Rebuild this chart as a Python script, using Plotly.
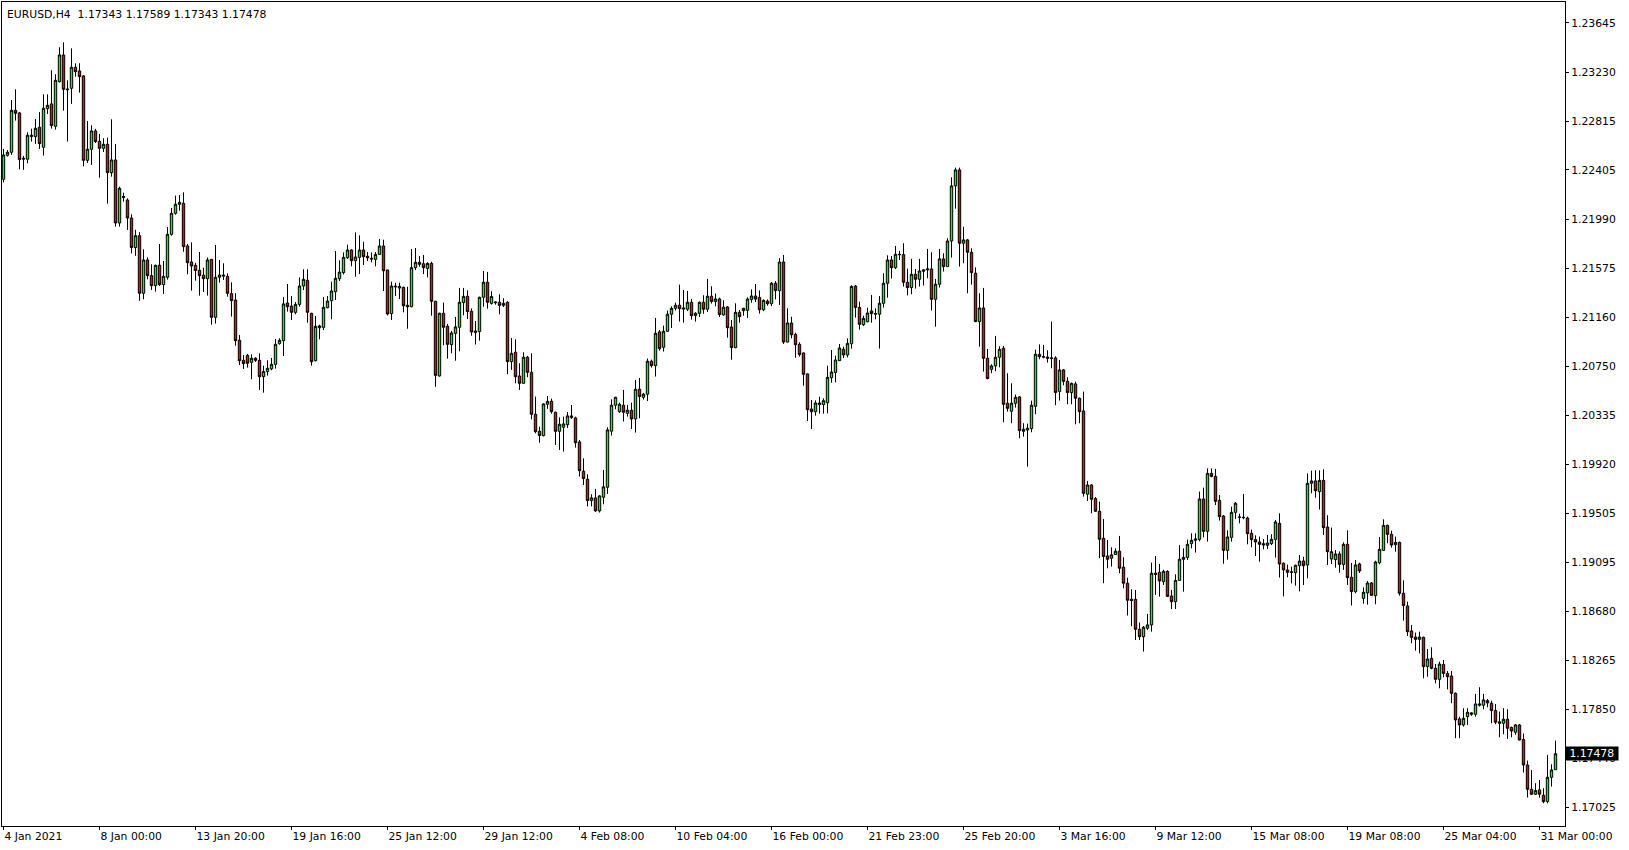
import plotly.graph_objects as go

symbol = "EURUSD"
period = "H4"

opens = [
    1.22326, 1.22528, 1.22554, 1.22908, 1.22886, 1.22503, 1.22495, 1.22686, 1.22686, 1.22765,
    1.22596, 1.22922, 1.22962, 1.22773, 1.23150, 1.23375, 1.23088, 1.23094, 1.23271, 1.23240,
    1.23198, 1.22486, 1.22579, 1.22734, 1.22646, 1.22587, 1.22621, 1.22382, 1.22489, 1.21957,
    1.22171, 1.22151, 1.21999, 1.21750, 1.21850, 1.21364, 1.21645, 1.21513, 1.21428, 1.21600,
    1.21437, 1.21499, 1.21861, 1.22039, 1.22115, 1.22123, 1.21763, 1.21628, 1.21600, 1.21558,
    1.21516, 1.21487, 1.21650, 1.21161, 1.21499, 1.21518, 1.21507, 1.21361, 1.21307, 1.20967,
    1.20798, 1.20840, 1.20781, 1.20815, 1.20798, 1.20660, 1.20703, 1.20726, 1.20764, 1.20939,
    1.20964, 1.21282, 1.21256, 1.21203, 1.21270, 1.21425, 1.21473, 1.21194, 1.20795, 1.21073,
    1.21076, 1.21242, 1.21301, 1.21377, 1.21487, 1.21538, 1.21664, 1.21729, 1.21639, 1.21667,
    1.21729, 1.21676, 1.21659, 1.21650, 1.21692, 1.21763, 1.21560, 1.21192, 1.21425, 1.21408,
    1.21414, 1.21262, 1.21251, 1.21580, 1.21625, 1.21613, 1.21574, 1.21616, 1.21296, 1.20666,
    1.21195, 1.21085, 1.20931, 1.21026, 1.21077, 1.21285, 1.21338, 1.21212, 1.21046, 1.21040,
    1.21330, 1.21457, 1.21279, 1.21291, 1.21288, 1.21262, 1.21288, 1.20787, 1.20866, 1.20666,
    1.20604, 1.20824, 1.20697, 1.20343, 1.20199, 1.20163, 1.20427, 1.20452, 1.20360, 1.20199,
    1.20233, 1.20255, 1.20329, 1.20312, 1.20109, 1.19862, 1.19794, 1.19614, 1.19637, 1.19527,
    1.19643, 1.19727, 1.20200, 1.20419, 1.20365, 1.20419, 1.20351, 1.20377, 1.20303, 1.20554,
    1.20486, 1.20512, 1.20790, 1.20753, 1.21038, 1.20908, 1.21043, 1.21187, 1.21237, 1.21263,
    1.21240, 1.21229, 1.21288, 1.21175, 1.21195, 1.21288, 1.21229, 1.21339, 1.21294, 1.21316,
    1.21181, 1.21248, 1.21079, 1.20905, 1.21203, 1.21217, 1.21220, 1.21312, 1.21341, 1.21329,
    1.21225, 1.21298, 1.21276, 1.21448, 1.21386, 1.21628, 1.20952, 1.21113, 1.21017, 1.20933,
    1.20860, 1.20683, 1.20387, 1.20364, 1.20424, 1.20424, 1.20440, 1.20651, 1.20696, 1.20795,
    1.20891, 1.20843, 1.20938, 1.21425, 1.21245, 1.21099, 1.21124, 1.21215, 1.21192, 1.21187,
    1.21279, 1.21448, 1.21645, 1.21580, 1.21693, 1.21690, 1.21457, 1.21412, 1.21524, 1.21482,
    1.21549, 1.21561, 1.21569, 1.21313, 1.21440, 1.21654, 1.21589, 1.21805, 1.22270, 1.22405,
    1.21786, 1.21814, 1.21710, 1.21533, 1.21125, 1.21240, 1.20815, 1.20722, 1.20751, 1.20824,
    1.20900, 1.20436, 1.20368, 1.20436, 1.20489, 1.20199, 1.20210, 1.20222, 1.20410, 1.20849,
    1.20829, 1.20826, 1.20818, 1.20818, 1.20534, 1.20717, 1.20621, 1.20526, 1.20599, 1.20478,
    1.20371, 1.19668, 1.19746, 1.19631, 1.19524, 1.19296, 1.19147, 1.19128, 1.19159, 1.19187,
    1.19052, 1.18917, 1.18781, 1.18781, 1.18528, 1.18466, 1.18537, 1.18565, 1.19001, 1.19009,
    1.18930, 1.19017, 1.18809, 1.18761, 1.18941, 1.19119, 1.19135, 1.19251, 1.19279, 1.19287,
    1.19628, 1.19355, 1.19844, 1.19819, 1.19616, 1.19484, 1.19194, 1.19304, 1.19515, 1.19476,
    1.19473, 1.19467, 1.19338, 1.19285, 1.19265, 1.19251, 1.19237, 1.19251, 1.19287, 1.19422,
    1.19085, 1.19029, 1.19009, 1.19006, 1.19065, 1.19104, 1.19071, 1.19760, 1.19780, 1.19690,
    1.19785, 1.19391, 1.19121, 1.19116, 1.19164, 1.19076, 1.19245, 1.18967, 1.18846, 1.19079,
    1.18789, 1.18835, 1.18919, 1.18812, 1.19090, 1.19194, 1.19405, 1.19330, 1.19242, 1.19262,
    1.18832, 1.18725, 1.18514, 1.18463, 1.18443, 1.18460, 1.18213, 1.18283, 1.18199, 1.18106,
    1.18232, 1.18156, 1.18134, 1.17988, 1.17772, 1.17721, 1.17791, 1.17811, 1.17811, 1.17887,
    1.17887, 1.17926, 1.17904, 1.17842, 1.17747, 1.17735, 1.17769, 1.17699, 1.17659, 1.17721,
    1.17597, 1.17383, 1.17178, 1.17136, 1.17173, 1.17127, 1.17074, 1.17279, 1.17343,
]

highs = [
    1.22582, 1.22573, 1.22995, 1.23085, 1.22894, 1.22523, 1.22722, 1.22753, 1.22835, 1.22894,
    1.23043, 1.23043, 1.23246, 1.23212, 1.23440, 1.23482, 1.23161, 1.23431, 1.23305, 1.23305,
    1.23203, 1.22818, 1.22781, 1.22751, 1.22708, 1.22672, 1.22677, 1.22832, 1.22624, 1.22264,
    1.22213, 1.22165, 1.22030, 1.21900, 1.21880, 1.21735, 1.21667, 1.21608, 1.21605, 1.21780,
    1.21636, 1.21923, 1.22084, 1.22188, 1.22193, 1.22216, 1.21780, 1.21794, 1.21620, 1.21712,
    1.21580, 1.21665, 1.21653, 1.21771, 1.21645, 1.21617, 1.21532, 1.21456, 1.21364, 1.21012,
    1.20843, 1.20852, 1.20849, 1.20824, 1.20857, 1.20753, 1.20798, 1.20818, 1.20978, 1.20984,
    1.21333, 1.21442, 1.21341, 1.21290, 1.21498, 1.21566, 1.21566, 1.21200, 1.21172, 1.21099,
    1.21332, 1.21341, 1.21462, 1.21720, 1.21642, 1.21709, 1.21774, 1.21735, 1.21878, 1.21853,
    1.21799, 1.21712, 1.21709, 1.21712, 1.21822, 1.21816, 1.21565, 1.21462, 1.21453, 1.21453,
    1.21419, 1.21419, 1.21737, 1.21746, 1.21678, 1.21687, 1.21625, 1.21630, 1.21301, 1.21200,
    1.21285, 1.21105, 1.21046, 1.21164, 1.21409, 1.21409, 1.21389, 1.21237, 1.21130, 1.21335,
    1.21552, 1.21544, 1.21381, 1.21296, 1.21355, 1.21322, 1.21296, 1.20987, 1.20976, 1.20773,
    1.20866, 1.20835, 1.20857, 1.20492, 1.20238, 1.20435, 1.20497, 1.20475, 1.20365, 1.20317,
    1.20323, 1.20362, 1.20421, 1.20323, 1.20126, 1.19971, 1.19836, 1.19668, 1.19713, 1.19660,
    1.19873, 1.20233, 1.20469, 1.20490, 1.20441, 1.20548, 1.20422, 1.20441, 1.20633, 1.20649,
    1.20523, 1.20813, 1.20804, 1.21156, 1.21054, 1.21091, 1.21218, 1.21254, 1.21285, 1.21437,
    1.21392, 1.21384, 1.21316, 1.21204, 1.21294, 1.21347, 1.21485, 1.21423, 1.21361, 1.21327,
    1.21305, 1.21256, 1.21138, 1.21279, 1.21222, 1.21240, 1.21329, 1.21397, 1.21442, 1.21388,
    1.21312, 1.21312, 1.21459, 1.21467, 1.21661, 1.21687, 1.21237, 1.21166, 1.21031, 1.20950,
    1.20865, 1.20688, 1.20463, 1.20460, 1.20491, 1.20477, 1.20753, 1.20885, 1.20837, 1.20936,
    1.20913, 1.20983, 1.21431, 1.21433, 1.21293, 1.21175, 1.21242, 1.21350, 1.21237, 1.21341,
    1.21533, 1.21684, 1.21679, 1.21763, 1.21721, 1.21786, 1.21572, 1.21654, 1.21569, 1.21654,
    1.21569, 1.21738, 1.21710, 1.21485, 1.21738, 1.21701, 1.21828, 1.22343, 1.22424, 1.22424,
    1.21926, 1.21822, 1.21744, 1.21583, 1.21364, 1.21409, 1.20894, 1.20765, 1.21004, 1.20917,
    1.20919, 1.20689, 1.20604, 1.20509, 1.20497, 1.20267, 1.20264, 1.20458, 1.20888, 1.20933,
    1.20928, 1.20883, 1.21125, 1.20832, 1.20801, 1.20725, 1.20655, 1.20610, 1.20618, 1.20484,
    1.20534, 1.19780, 1.19752, 1.19645, 1.19606, 1.19459, 1.19282, 1.19220, 1.19212, 1.19316,
    1.19136, 1.18964, 1.18866, 1.18860, 1.18585, 1.18556, 1.18658, 1.19091, 1.19147, 1.19080,
    1.19031, 1.19026, 1.18860, 1.18992, 1.19239, 1.19211, 1.19285, 1.19338, 1.19338, 1.19690,
    1.19723, 1.19886, 1.19886, 1.19881, 1.19661, 1.19493, 1.19363, 1.19563, 1.19602, 1.19504,
    1.19670, 1.19479, 1.19369, 1.19321, 1.19310, 1.19290, 1.19324, 1.19330, 1.19450, 1.19507,
    1.19093, 1.19074, 1.19057, 1.19074, 1.19155, 1.19141, 1.19844, 1.19867, 1.19870, 1.19870,
    1.19878, 1.19490, 1.19386, 1.19197, 1.19186, 1.19262, 1.19363, 1.19088, 1.19113, 1.19090,
    1.18882, 1.18936, 1.18927, 1.19107, 1.19307, 1.19456, 1.19411, 1.19360, 1.19310, 1.19268,
    1.18941, 1.18761, 1.18564, 1.18500, 1.18508, 1.18466, 1.18362, 1.18376, 1.18235, 1.18255,
    1.18269, 1.18176, 1.18176, 1.17995, 1.17791, 1.17862, 1.17862, 1.17828, 1.17983, 1.18039,
    1.17983, 1.17940, 1.17926, 1.17898, 1.17834, 1.17862, 1.17853, 1.17707, 1.17729, 1.17729,
    1.17648, 1.17420, 1.17341, 1.17229, 1.17257, 1.17187, 1.17468, 1.17389, 1.17589,
]

lows = [
    1.22300, 1.22517, 1.22531, 1.22821, 1.22410, 1.22405, 1.22461, 1.22644, 1.22624, 1.22582,
    1.22526, 1.22877, 1.22753, 1.22745, 1.23142, 1.22905, 1.22644, 1.22962, 1.23192, 1.23057,
    1.22435, 1.22464, 1.22447, 1.22632, 1.22340, 1.22556, 1.22120, 1.22348, 1.21926, 1.21926,
    1.22137, 1.21898, 1.21700, 1.21680, 1.21300, 1.21313, 1.21482, 1.21392, 1.21378, 1.21425,
    1.21358, 1.21479, 1.21850, 1.22027, 1.22061, 1.21715, 1.21524, 1.21386, 1.21470, 1.21344,
    1.21375, 1.21344, 1.21099, 1.21108, 1.21454, 1.21476, 1.21335, 1.21167, 1.20922, 1.20759,
    1.20725, 1.20736, 1.20638, 1.20784, 1.20548, 1.20525, 1.20669, 1.20714, 1.20728, 1.20930,
    1.20835, 1.21209, 1.21138, 1.21186, 1.21251, 1.21391, 1.21116, 1.20753, 1.20790, 1.20975,
    1.21054, 1.21237, 1.21144, 1.21307, 1.21467, 1.21523, 1.21653, 1.21591, 1.21504, 1.21526,
    1.21602, 1.21636, 1.21625, 1.21591, 1.21690, 1.21383, 1.21177, 1.21138, 1.21341, 1.21315,
    1.21203, 1.21065, 1.21245, 1.21560, 1.21588, 1.21526, 1.21498, 1.21175, 1.20575, 1.20660,
    1.20925, 1.20812, 1.20857, 1.20795, 1.20874, 1.21178, 1.21147, 1.21006, 1.20931, 1.20964,
    1.21251, 1.21234, 1.21268, 1.21268, 1.21186, 1.21248, 1.20680, 1.20717, 1.20604, 1.20548,
    1.20599, 1.20655, 1.20300, 1.20182, 1.20103, 1.20155, 1.20388, 1.20348, 1.20084, 1.20042,
    1.20028, 1.20227, 1.20303, 1.20061, 1.19817, 1.19746, 1.19566, 1.19566, 1.19521, 1.19513,
    1.19583, 1.19670, 1.20163, 1.20385, 1.20354, 1.20281, 1.20323, 1.20219, 1.20188, 1.20309,
    1.20467, 1.20455, 1.20737, 1.20661, 1.20880, 1.20872, 1.21038, 1.21071, 1.21218, 1.21125,
    1.21116, 1.21215, 1.21142, 1.21125, 1.21164, 1.21192, 1.21206, 1.21277, 1.21254, 1.21164,
    1.21175, 1.20989, 1.20803, 1.20900, 1.21116, 1.21175, 1.21155, 1.21284, 1.21290, 1.21192,
    1.21214, 1.21259, 1.21256, 1.21312, 1.21265, 1.20936, 1.20949, 1.20983, 1.20820, 1.20829,
    1.20584, 1.20286, 1.20218, 1.20331, 1.20348, 1.20348, 1.20350, 1.20609, 1.20612, 1.20792,
    1.20817, 1.20823, 1.20896, 1.21158, 1.21057, 1.21087, 1.21118, 1.21116, 1.21144, 1.20897,
    1.21243, 1.21327, 1.21488, 1.21569, 1.21645, 1.21420, 1.21347, 1.21355, 1.21403, 1.21420,
    1.21429, 1.21490, 1.21218, 1.21082, 1.21412, 1.21547, 1.21585, 1.21665, 1.22078, 1.21589,
    1.21617, 1.21364, 1.21437, 1.21120, 1.20914, 1.20703, 1.20638, 1.20689, 1.20706, 1.20739,
    1.20275, 1.20365, 1.20267, 1.20399, 1.20140, 1.20154, 1.19901, 1.20191, 1.20343, 1.20807,
    1.20815, 1.20779, 1.20731, 1.20419, 1.20458, 1.20587, 1.20427, 1.20427, 1.20258, 1.20267,
    1.19648, 1.19611, 1.19507, 1.19520, 1.19128, 1.18917, 1.19043, 1.19057, 1.19156, 1.19001,
    1.18874, 1.18644, 1.18554, 1.18438, 1.18438, 1.18340, 1.18523, 1.18509, 1.18818, 1.18804,
    1.18902, 1.18800, 1.18699, 1.18699, 1.18936, 1.18846, 1.19113, 1.19211, 1.19175, 1.19270,
    1.19304, 1.19268, 1.19811, 1.19577, 1.19445, 1.19082, 1.19116, 1.19268, 1.19459, 1.19422,
    1.19456, 1.19245, 1.19220, 1.19147, 1.19099, 1.19203, 1.19206, 1.19239, 1.19133, 1.18964,
    1.18806, 1.18967, 1.18916, 1.18896, 1.18848, 1.18902, 1.18958, 1.19676, 1.19639, 1.19538,
    1.19324, 1.19071, 1.19079, 1.19048, 1.19006, 1.19029, 1.18902, 1.18728, 1.18832, 1.19003,
    1.18744, 1.18736, 1.18809, 1.18739, 1.19076, 1.19189, 1.19254, 1.19217, 1.19183, 1.18812,
    1.18601, 1.18472, 1.18410, 1.18348, 1.18325, 1.18114, 1.18128, 1.18190, 1.18072, 1.18030,
    1.18123, 1.18021, 1.17904, 1.17609, 1.17609, 1.17707, 1.17721, 1.17797, 1.17791, 1.17876,
    1.17853, 1.17870, 1.17735, 1.17727, 1.17617, 1.17642, 1.17603, 1.17617, 1.17637, 1.17590,
    1.17319, 1.17108, 1.17130, 1.17130, 1.17108, 1.17060, 1.17060, 1.17201, 1.17343,
]

closes = [
    1.22531, 1.22554, 1.22908, 1.22883, 1.22492, 1.22497, 1.22697, 1.22697, 1.22756, 1.22627,
    1.22925, 1.22950, 1.22779, 1.23161, 1.23375, 1.23085, 1.23082, 1.23271, 1.23234, 1.23192,
    1.22486, 1.22579, 1.22734, 1.22644, 1.22587, 1.22621, 1.22382, 1.22489, 1.21957, 1.22250,
    1.22180, 1.21999, 1.21750, 1.21850, 1.21364, 1.21645, 1.21513, 1.21428, 1.21600, 1.21437,
    1.21507, 1.21861, 1.22039, 1.22115, 1.22132, 1.21757, 1.21622, 1.21594, 1.21555, 1.21513,
    1.21487, 1.21645, 1.21161, 1.21499, 1.21518, 1.21510, 1.21364, 1.21302, 1.20964, 1.20795,
    1.20770, 1.20773, 1.20815, 1.20798, 1.20660, 1.20703, 1.20731, 1.20764, 1.20933, 1.20967,
    1.21274, 1.21251, 1.21203, 1.21270, 1.21425, 1.21481, 1.21203, 1.20786, 1.21085, 1.21088,
    1.21245, 1.21298, 1.21383, 1.21490, 1.21543, 1.21667, 1.21729, 1.21639, 1.21670, 1.21729,
    1.21673, 1.21664, 1.21653, 1.21692, 1.21763, 1.21554, 1.21189, 1.21425, 1.21419, 1.21422,
    1.21259, 1.21251, 1.21580, 1.21625, 1.21608, 1.21580, 1.21616, 1.21296, 1.20671, 1.21195,
    1.21077, 1.20933, 1.21029, 1.21080, 1.21288, 1.21338, 1.21209, 1.21037, 1.21032, 1.21330,
    1.21457, 1.21288, 1.21336, 1.21285, 1.21262, 1.21279, 1.20787, 1.20857, 1.20660, 1.20604,
    1.20824, 1.20697, 1.20343, 1.20196, 1.20163, 1.20430, 1.20452, 1.20365, 1.20199, 1.20258,
    1.20261, 1.20329, 1.20317, 1.20103, 1.19867, 1.19800, 1.19614, 1.19637, 1.19527, 1.19654,
    1.19730, 1.20211, 1.20419, 1.20486, 1.20427, 1.20360, 1.20377, 1.20303, 1.20554, 1.20492,
    1.20512, 1.20790, 1.20753, 1.21026, 1.20897, 1.21043, 1.21187, 1.21237, 1.21263, 1.21234,
    1.21232, 1.21288, 1.21175, 1.21195, 1.21288, 1.21229, 1.21339, 1.21294, 1.21316, 1.21184,
    1.21246, 1.21073, 1.20905, 1.21203, 1.21166, 1.21237, 1.21315, 1.21341, 1.21315, 1.21225,
    1.21304, 1.21276, 1.21448, 1.21386, 1.21628, 1.20952, 1.21113, 1.21014, 1.20930, 1.20846,
    1.20680, 1.20381, 1.20364, 1.20438, 1.20438, 1.20457, 1.20654, 1.20699, 1.20801, 1.20902,
    1.20843, 1.20941, 1.21422, 1.21245, 1.21102, 1.21152, 1.21197, 1.21192, 1.21189, 1.21279,
    1.21448, 1.21645, 1.21580, 1.21693, 1.21690, 1.21457, 1.21412, 1.21524, 1.21482, 1.21552,
    1.21561, 1.21569, 1.21313, 1.21440, 1.21654, 1.21589, 1.21805, 1.22270, 1.22405, 1.21786,
    1.21814, 1.21710, 1.21538, 1.21125, 1.21240, 1.20815, 1.20644, 1.20751, 1.20824, 1.20891,
    1.20427, 1.20393, 1.20436, 1.20486, 1.20205, 1.20216, 1.20225, 1.20419, 1.20849, 1.20829,
    1.20826, 1.20815, 1.20815, 1.20526, 1.20717, 1.20621, 1.20526, 1.20604, 1.20478, 1.20365,
    1.19676, 1.19746, 1.19625, 1.19524, 1.19288, 1.19142, 1.19119, 1.19156, 1.19187, 1.19043,
    1.18917, 1.18773, 1.18770, 1.18528, 1.18466, 1.18545, 1.18565, 1.19001, 1.18992, 1.18936,
    1.19017, 1.18806, 1.18761, 1.18941, 1.19119, 1.19135, 1.19245, 1.19279, 1.19290, 1.19628,
    1.19355, 1.19844, 1.19819, 1.19608, 1.19479, 1.19194, 1.19307, 1.19515, 1.19591, 1.19473,
    1.19470, 1.19335, 1.19285, 1.19265, 1.19245, 1.19239, 1.19256, 1.19287, 1.19434, 1.19079,
    1.19029, 1.19009, 1.19012, 1.19068, 1.19104, 1.19065, 1.19760, 1.19780, 1.19698, 1.19785,
    1.19386, 1.19183, 1.19183, 1.19164, 1.19076, 1.19245, 1.18964, 1.18846, 1.19071, 1.19020,
    1.18840, 1.18919, 1.18815, 1.19096, 1.19203, 1.19405, 1.19330, 1.19239, 1.19262, 1.18832,
    1.18728, 1.18508, 1.18460, 1.18443, 1.18463, 1.18213, 1.18277, 1.18199, 1.18106, 1.18235,
    1.18156, 1.18128, 1.17988, 1.17763, 1.17721, 1.17777, 1.17828, 1.17822, 1.17898, 1.17898,
    1.17932, 1.17907, 1.17842, 1.17744, 1.17735, 1.17769, 1.17693, 1.17670, 1.17721, 1.17594,
    1.17383, 1.17178, 1.17136, 1.17167, 1.17136, 1.17074, 1.17279, 1.17341, 1.17478,
]

time_labels = [
    "4 Jan 2021", "8 Jan 00:00", "13 Jan 20:00", "19 Jan 16:00", "25 Jan 12:00",
    "29 Jan 12:00", "4 Feb 08:00", "10 Feb 04:00", "16 Feb 00:00", "21 Feb 23:00",
    "25 Feb 20:00", "3 Mar 16:00", "9 Mar 12:00", "15 Mar 08:00", "19 Mar 08:00",
    "25 Mar 04:00", "31 Mar 00:00",
]
bars_per_label = 24

price_ticks = [
    1.23645, 1.23230, 1.22815, 1.22405, 1.21990, 1.21575, 1.21160, 1.20750, 1.20335,
    1.19920, 1.19505, 1.19095, 1.18680, 1.18265, 1.17850, 1.17440, 1.17025,
]

n = len(closes)
x = list(range(n))
FONT = "DejaVu Sans"

fig = go.Figure(
    go.Candlestick(
        x=x, open=opens, high=highs, low=lows, close=closes,
        increasing=dict(line=dict(color="#000000", width=1), fillcolor="#00ff00"),
        decreasing=dict(line=dict(color="#000000", width=1), fillcolor="#ff0000"),
        whiskerwidth=0,
        hoverinfo="skip",
        showlegend=False,
    )
)

tick_pos = [i * bars_per_label for i in range(len(time_labels))]

fig.update_layout(
    width=1629, height=850,
    margin=dict(l=2, r=64, t=2, b=24),
    paper_bgcolor="white", plot_bgcolor="white",
    font=dict(family=FONT, size=10.8, color="black"),
    showlegend=False,
    boxgap=0.15,
    xaxis=dict(
        range=[-0.375, n + 1.375],
        rangeslider=dict(visible=False),
        showgrid=False, zeroline=False,
        showline=True, linecolor="black", linewidth=1, mirror=True,
        tickmode="array", tickvals=tick_pos, ticktext=time_labels,
        ticks="outside", ticklen=3, tickcolor="black",
        ticklabelposition="outside right",
        tickfont=dict(family=FONT, size=10.8, color="black"),
    ),
    yaxis=dict(
        side="right",
        range=[1.16868, 1.23822],
        showgrid=False, zeroline=False,
        showline=True, linecolor="black", linewidth=1, mirror=True,
        tickmode="array", tickvals=price_ticks,
        ticktext=[f"{v:.5f}" for v in price_ticks],
        ticks="outside", ticklen=3, tickcolor="black",
        tickfont=dict(family=FONT, size=10.8, color="black"),
    ),
)

title = (f"{symbol},{period}\u00a0\u00a0{opens[-1]:.5f} {highs[-1]:.5f} "
         f"{lows[-1]:.5f} {closes[-1]:.5f}")
fig.add_annotation(
    text=title, xref="paper", yref="paper", x=0, y=1,
    xanchor="left", yanchor="top", xshift=3, yshift=-4, showarrow=False,
    font=dict(family=FONT, size=10.8, color="black"),
)
fig.add_annotation(
    text=f"\u00a0{closes[-1]:.5f}\u00a0", xref="paper", yref="y", x=1, y=closes[-1],
    xanchor="left", yanchor="middle", xshift=0, showarrow=False,
    bgcolor="black", borderpad=0,
    font=dict(family=FONT, size=10.8, color="white"),
)

fig.write_html(
    "out.html",
    config={"displayModeBar": False},
    post_script="document.body.style.margin='0';document.body.style.padding='0';",
)
